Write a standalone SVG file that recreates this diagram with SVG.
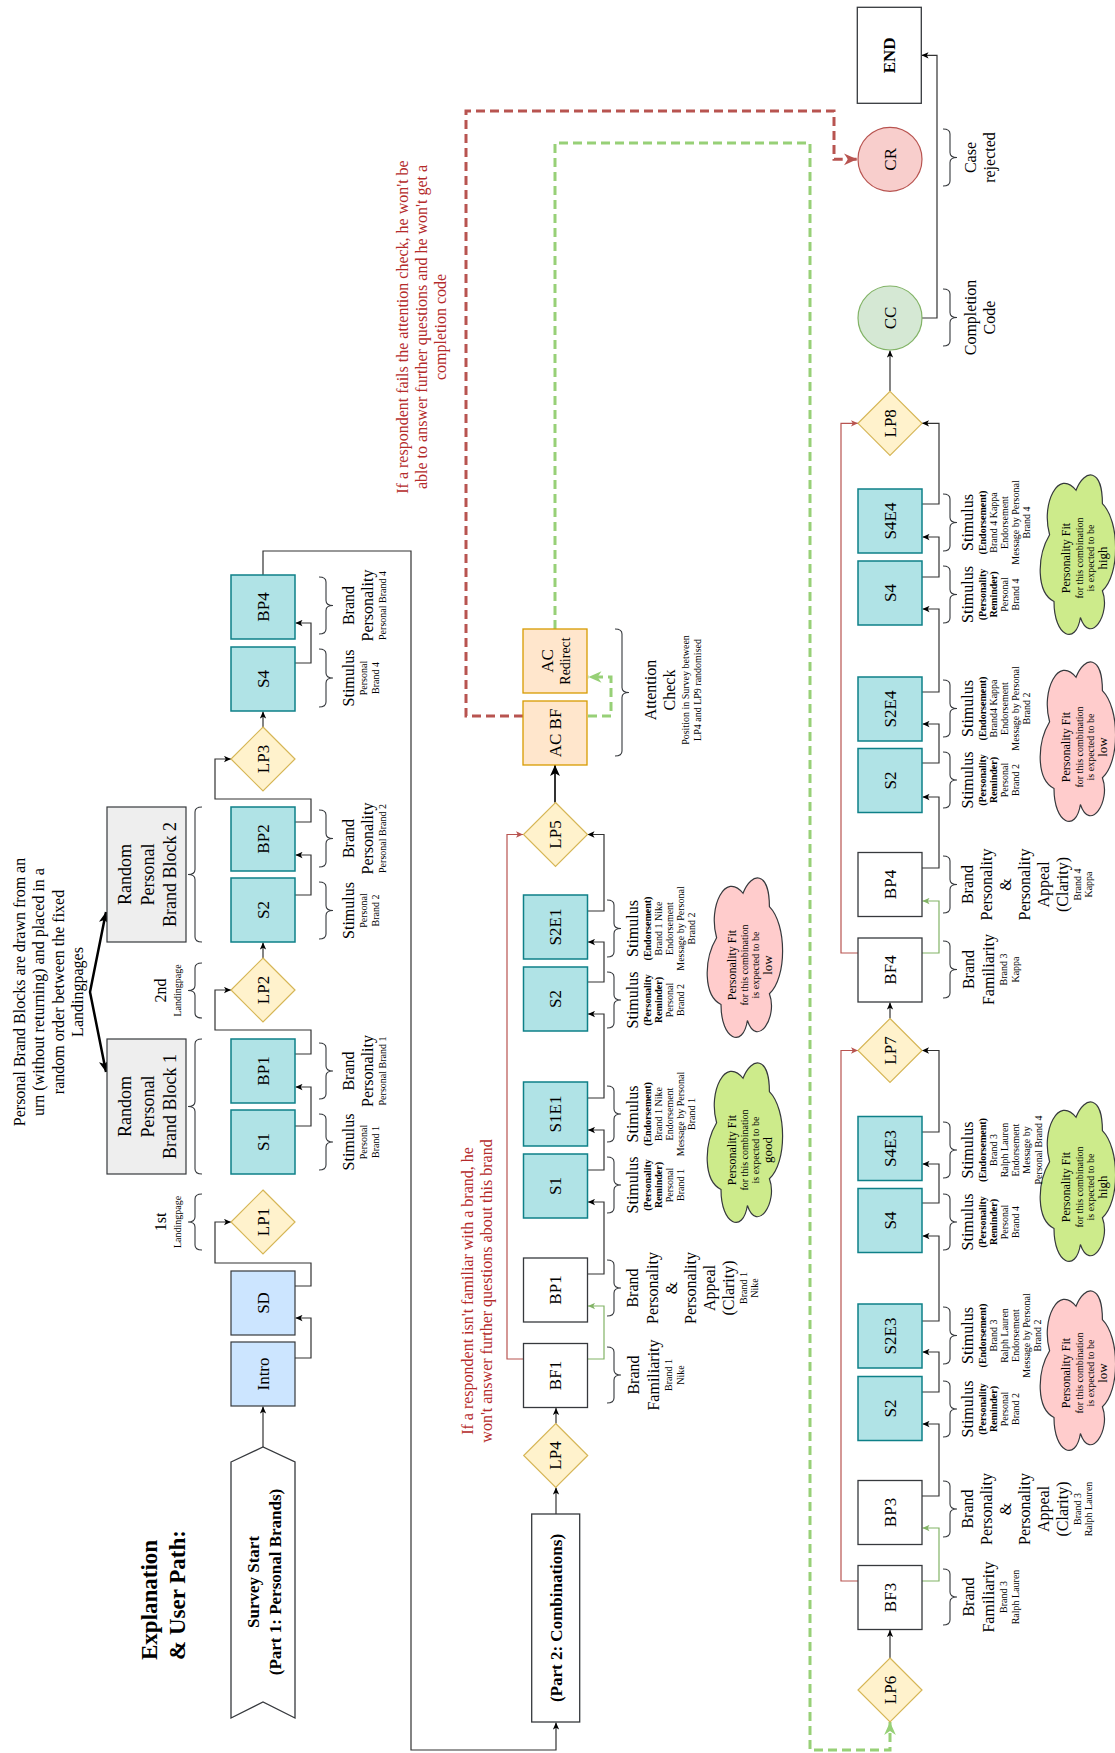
<svg xmlns="http://www.w3.org/2000/svg" width="1115" height="1753" viewBox="0 0 1115 1753">
<style>
.t{font-family:"Liberation Serif","Times New Roman",serif;text-anchor:middle;fill:#000}
.t, .t tspan{dominant-baseline:central}
.ts{text-anchor:start}
.f23{font-size:23px}.f18{font-size:18px}.f17{font-size:17px}.f16{font-size:16px}.f14{font-size:14px}.f13{font-size:13px}.f12{font-size:12px}.f10{font-size:10px}.b{font-weight:bold}
.rt{fill:#b42a2a}
.teal{fill:#b0e3e6;stroke:#0e8088;stroke-width:1.5}
.blue{fill:#cce5ff;stroke:#36393d;stroke-width:1.2}
.dia{fill:#fff2cc;stroke:#d6b656;stroke-width:1.2}
.wht{fill:#fff;stroke:#36393d;stroke-width:1.3}
.gry{fill:#eeeeee;stroke:#36393d;stroke-width:1.2}
.pch{fill:#ffe6cc;stroke:#d79b00;stroke-width:1.3}
.cr{fill:#f8cecc;stroke:#b85450;stroke-width:1.2}
.cc{fill:#d5e8d4;stroke:#82b366;stroke-width:1.2}
.e{fill:none;stroke:#333;stroke-width:1.2}
.er{fill:none;stroke:#b85450;stroke-width:1.2}
.eg{fill:none;stroke:#82b366;stroke-width:1.2}
.dr{fill:none;stroke:#b85450;stroke-width:3;stroke-dasharray:9 5}
.dg{fill:none;stroke:#97d077;stroke-width:3;stroke-dasharray:9 5}
.br{fill:none;stroke:#36393d;stroke-width:1.1}
.cg{fill:#cdeb8b;stroke:#36393d;stroke-width:1.2}
.cp{fill:#ffcccc;stroke:#36393d;stroke-width:1.2}
</style>
<defs>
<marker id="ak" viewBox="0 0 10 10" refX="10" refY="5" markerWidth="7" markerHeight="7" orient="auto" markerUnits="userSpaceOnUse"><path d="M0,0.5 L10,5 L0,9.5 L2.5,5z" fill="#000"/></marker>
<marker id="ar" viewBox="0 0 10 10" refX="10" refY="5" markerWidth="7" markerHeight="7" orient="auto" markerUnits="userSpaceOnUse"><path d="M0,0.5 L10,5 L0,9.5 L2.5,5z" fill="#b85450"/></marker>
<marker id="ag" viewBox="0 0 10 10" refX="10" refY="5" markerWidth="7" markerHeight="7" orient="auto" markerUnits="userSpaceOnUse"><path d="M0,0.5 L10,5 L0,9.5 L2.5,5z" fill="#82b366"/></marker>
<marker id="akb" viewBox="0 0 10 10" refX="10" refY="5" markerWidth="11" markerHeight="11" orient="auto-start-reverse" markerUnits="userSpaceOnUse"><path d="M0,0.5 L10,5 L0,9.5 L2.5,5z" fill="#000"/></marker>
<marker id="arb" viewBox="0 0 10 10" refX="10" refY="5" markerWidth="13" markerHeight="13" orient="auto" markerUnits="userSpaceOnUse"><path d="M0,0.5 L10,5 L0,9.5 L3,5z" fill="#b85450"/></marker>
<marker id="agb" viewBox="0 0 10 10" refX="10" refY="5" markerWidth="13" markerHeight="13" orient="auto" markerUnits="userSpaceOnUse"><path d="M0,0.5 L10,5 L0,9.5 L3,5z" fill="#97d077"/></marker>
<path id="cloud" d="M-44.5,-22 C-80.1,-22 -89,0 -60.5,4.4 C-89,14.1 -57,35.2 -33.8,26.4 C-17.8,44 35.6,44 53.4,26.4 C89,26.4 89,8.8 66.75,0 C89,-17.6 53.4,-35.2 22.25,-26.4 C0,-39.6 -35.6,-39.6 -44.5,-22 Z"/>
</defs>
<rect width="1115" height="1753" fill="#fff"/>

<!-- Free texts -->
<g id="title">
<text class="t ts b f23" transform="translate(0,1660) rotate(-90)"><tspan x="0" y="149">Explanation</tspan><tspan x="0" y="177">&amp; User Path:</tspan></text>
</g>
<g id="note-blocks">
<text class="t f16" transform="translate(0,992) rotate(-90)"><tspan x="0" y="18.5">Personal Brand Blocks are drawn from an</tspan><tspan x="0" y="38">urn (without returning) and placed in a</tspan><tspan x="0" y="57.5">random order between the fixed</tspan><tspan x="0" y="77">Landingpages</tspan></text>
</g>
<g id="note-familiar">
<text class="t f16 rt" transform="translate(0,1291) rotate(-90)"><tspan x="0" y="467">If a respondent isn't familiar with a brand, he</tspan><tspan x="0" y="485.5">won't answer further questions about this brand</tspan></text>
</g>
<g id="note-attention">
<text class="t f16 rt" transform="translate(0,327) rotate(-90)"><tspan x="0" y="402">If a respondent fails the attention check, he won't be</tspan><tspan x="0" y="421">able to answer further questions and he won't get a</tspan><tspan x="0" y="440">completion code</tspan></text>
</g>

<!-- Connectors -->
<g id="connectors">
<path class="e" marker-end="url(#ak)" d="M263,1447 V1406.5"/>
<path class="e" marker-end="url(#ak)" d="M295,1358 H311 V1318 H295.5"/>
<path class="e" marker-end="url(#ak)" d="M295,1286 H311 V1263 H215 V1222 H231"/>
<path class="e" marker-end="url(#ak)" d="M295,1126 H311 V1087 H295.5"/>
<path class="e" marker-end="url(#ak)" d="M295,1054 H311 V1030 H215 V990 H231"/>
<path class="e" marker-end="url(#ak)" d="M263,958 V942.5"/>
<path class="e" marker-end="url(#ak)" d="M295,895 H311 V855 H295.5"/>
<path class="e" marker-end="url(#ak)" d="M295,822 H311 V799 H215 V759 H231"/>
<path class="e" marker-end="url(#ak)" d="M263,727 V711.5"/>
<path class="e" marker-end="url(#ak)" d="M295,663 H311 V623 H295.5"/>
<path class="e" marker-end="url(#ak)" d="M263,575 V551 H411 V1750 H556 V1722.5"/>

<path class="e" marker-end="url(#ak)" d="M556,1514 V1487.5"/>
<path class="e" marker-end="url(#ak)" d="M556,1423.5 V1408"/>
<path class="eg" marker-end="url(#ag)" d="M587.5,1359 H604 V1306 H588"/>
<path class="er" marker-end="url(#ar)" d="M523.5,1359 H507 V834.5 H523"/>
<path class="e" marker-end="url(#ak)" d="M587.5,1274 H604 V1202 H588"/>
<path class="e" marker-end="url(#ak)" d="M587.5,1170 H604 V1130 H588"/>
<path class="e" marker-end="url(#ak)" d="M587.5,1098 H604 V1014 H588"/>
<path class="e" marker-end="url(#ak)" d="M587.5,982 H604 V942 H588"/>
<path class="e" marker-end="url(#ak)" d="M587.5,911 H604 V834.5 H587.5"/>
<path class="e" style="stroke-width:2" marker-end="url(#akb)" d="M555,802.5 V765"/>
<path class="dr" marker-end="url(#arb)" d="M523,716 H466 V111 H834 V159.3 H857"/>
<path class="dg" marker-end="url(#agb)" d="M588,716 H611 V677 H588.5"/>
<path class="dg" marker-end="url(#agb)" d="M555,629 V143 H810 V1750 H890 V1722"/>

<path class="e" marker-end="url(#ak)" d="M890,1658 V1630"/>
<path class="eg" marker-end="url(#ag)" d="M922,1581 H939 V1528 H922.5"/>
<path class="er" marker-end="url(#ar)" d="M858,1581 H841 V1050.5 H858"/>
<path class="e" marker-end="url(#ak)" d="M922,1496 H939 V1424 H922.5"/>
<path class="e" marker-end="url(#ak)" d="M922,1392 H939 V1352 H922.5"/>
<path class="e" marker-end="url(#ak)" d="M922,1321 H939 V1236 H922.5"/>
<path class="e" marker-end="url(#ak)" d="M922,1203 H939 V1164 H922.5"/>
<path class="e" marker-end="url(#ak)" d="M922,1132 H939 V1050.5 H922"/>
<path class="e" marker-end="url(#ak)" d="M890,1018.5 V1002.5"/>
<path class="eg" marker-end="url(#ag)" d="M922,953 H939 V901 H922.5"/>
<path class="er" marker-end="url(#ar)" d="M858,953 H841 V423.3 H858"/>
<path class="e" marker-end="url(#ak)" d="M922,868 H939 V797 H922.5"/>
<path class="e" marker-end="url(#ak)" d="M922,763 H939 V724 H922.5"/>
<path class="e" marker-end="url(#ak)" d="M922,692 H939 V609 H922.5"/>
<path class="e" marker-end="url(#ak)" d="M922,577 H939 V537 H922.5"/>
<path class="e" marker-end="url(#ak)" d="M922,504 H939 V423.3 H922"/>
<path class="e" marker-end="url(#ak)" d="M890,391.3 V350.5"/>
<path class="e" marker-end="url(#ak)" d="M922,318 H937 V55.3 H921.5"/>

<path fill="none" stroke="#000" stroke-width="2.5" marker-start="url(#akb)" marker-end="url(#akb)" d="M106,912 L90,992 L106,1072"/>
</g>

<!-- Braces -->
<g id="braces" class="br">
<path d="M319 649 Q326 649 326 654 V673 Q326 678 333 678 Q326 678 326 683 V702 Q326 707 319 707"/>
<path d="M319 577 Q326 577 326 582 V600.5 Q326 605.5 333 605.5 Q326 605.5 326 610.5 V629 Q326 634 319 634"/>
<path d="M319 810 Q326 810 326 815 V833.5 Q326 838.5 333 838.5 Q326 838.5 326 843.5 V862 Q326 867 319 867"/>
<path d="M319 882 Q326 882 326 887 V905.5 Q326 910.5 333 910.5 Q326 910.5 326 915.5 V934 Q326 939 319 939"/>
<path d="M319 1043 Q326 1043 326 1048 V1066 Q326 1071 333 1071 Q326 1071 326 1076 V1094 Q326 1099 319 1099"/>
<path d="M319 1114 Q326 1114 326 1119 V1137 Q326 1142 333 1142 Q326 1142 326 1147 V1165 Q326 1170 319 1170"/>
<path d="M202 807 Q195 807 195 812 V869.5 Q195 874.5 188 874.5 Q195 874.5 195 879.5 V937 Q195 942 202 942"/>
<path d="M202 963 Q195 963 195 968 V985.5 Q195 990.5 188 990.5 Q195 990.5 195 995.5 V1013 Q195 1018 202 1018"/>
<path d="M202 1039 Q195 1039 195 1044 V1101.5 Q195 1106.5 188 1106.5 Q195 1106.5 195 1111.5 V1169 Q195 1174 202 1174"/>
<path d="M202 1194 Q195 1194 195 1199 V1217 Q195 1222 188 1222 Q195 1222 195 1227 V1245 Q195 1250 202 1250"/>

<path d="M607 900 Q614 900 614 905 V923.5 Q614 928.5 621 928.5 Q614 928.5 614 933.5 V952 Q614 957 607 957"/>
<path d="M607 972 Q614 972 614 977 V995 Q614 1000 621 1000 Q614 1000 614 1005 V1023 Q614 1028 607 1028"/>
<path d="M607 1086 Q614 1086 614 1091 V1109 Q614 1114 621 1114 Q614 1114 614 1119 V1137 Q614 1142 607 1142"/>
<path d="M607 1157 Q614 1157 614 1162 V1180 Q614 1185 621 1185 Q614 1185 614 1190 V1208 Q614 1213 607 1213"/>
<path d="M607 1260 Q614 1260 614 1265 V1283 Q614 1288 621 1288 Q614 1288 614 1293 V1311 Q614 1316 607 1316"/>
<path d="M607 1347 Q614 1347 614 1352 V1370 Q614 1375 621 1375 Q614 1375 614 1380 V1398 Q614 1403 607 1403"/>
<path d="M615 629 Q622 629 622 634 V687.5 Q622 692.5 629 692.5 Q622 692.5 622 697.5 V751 Q622 756 615 756"/>

<path d="M943 129 Q950 129 950 134 V152.5 Q950 157.5 957 157.5 Q950 157.5 950 162.5 V181 Q950 186 943 186"/>
<path d="M943 289 Q950 289 950 294 V312.5 Q950 317.5 957 317.5 Q950 317.5 950 322.5 V341 Q950 346 943 346"/>
<path d="M943 494 Q950 494 950 499 V517.5 Q950 522.5 957 522.5 Q950 522.5 950 527.5 V546 Q950 551 943 551"/>
<path d="M943 566 Q950 566 950 571 V589.5 Q950 594.5 957 594.5 Q950 594.5 950 599.5 V618 Q950 623 943 623"/>
<path d="M943 680 Q950 680 950 685 V703.5 Q950 708.5 957 708.5 Q950 708.5 950 713.5 V732 Q950 737 943 737"/>
<path d="M943 752 Q950 752 950 757 V775 Q950 780 957 780 Q950 780 950 785 V803 Q950 808 943 808"/>
<path d="M943 856 Q950 856 950 861 V879.5 Q950 884.5 957 884.5 Q950 884.5 950 889.5 V908 Q950 913 943 913"/>
<path d="M943 941 Q950 941 950 946 V964.5 Q950 969.5 957 969.5 Q950 969.5 950 974.5 V993 Q950 998 943 998"/>
<path d="M943 1122 Q950 1122 950 1127 V1145 Q950 1150 957 1150 Q950 1150 950 1155 V1173 Q950 1178 943 1178"/>
<path d="M943 1194 Q950 1194 950 1199 V1217 Q950 1222 957 1222 Q950 1222 950 1227 V1245 Q950 1250 943 1250"/>
<path d="M943 1307 Q950 1307 950 1312 V1330.5 Q950 1335.5 957 1335.5 Q950 1335.5 950 1340.5 V1359 Q950 1364 943 1364"/>
<path d="M943 1381 Q950 1381 950 1386 V1404 Q950 1409 957 1409 Q950 1409 950 1414 V1432 Q950 1437 943 1437"/>
<path d="M943 1481 Q950 1481 950 1486 V1504 Q950 1509 957 1509 Q950 1509 950 1514 V1532 Q950 1537 943 1537"/>
<path d="M943 1569 Q950 1569 950 1574 V1592 Q950 1597 957 1597 Q950 1597 950 1602 V1620 Q950 1625 943 1625"/>
</g>

<!-- Clouds -->
<g id="cloud-p2-good"><use href="#cloud" class="cg" transform="translate(743,1145) rotate(-90)"/>
<text class="t" transform="translate(0,1150) rotate(-90)"><tspan x="0" y="732" class="f12">Personality Fit</tspan><tspan x="0" y="744" class="f10">for this combination</tspan><tspan x="0" y="755" class="f10">is expected to be</tspan><tspan x="0" y="767" class="f13">good</tspan></text></g>
<g id="cloud-p2-low"><use href="#cloud" class="cp" transform="translate(743,960) rotate(-90)"/>
<text class="t" transform="translate(0,965) rotate(-90)"><tspan x="0" y="732" class="f12">Personality Fit</tspan><tspan x="0" y="744" class="f10">for this combination</tspan><tspan x="0" y="755" class="f10">is expected to be</tspan><tspan x="0" y="767" class="f13">low</tspan></text></g>
<g id="cloud-p3-high1"><use href="#cloud" class="cg" transform="translate(1076,557) rotate(-90)"/>
<text class="t" transform="translate(0,558) rotate(-90)"><tspan x="0" y="1066" class="f12">Personality Fit</tspan><tspan x="0" y="1078.5" class="f10">for this combination</tspan><tspan x="0" y="1090" class="f10">is expected to be</tspan><tspan x="0" y="1102" class="f13">high</tspan></text></g>
<g id="cloud-p3-low1"><use href="#cloud" class="cp" transform="translate(1076,744) rotate(-90)"/>
<text class="t" transform="translate(0,747) rotate(-90)"><tspan x="0" y="1066" class="f12">Personality Fit</tspan><tspan x="0" y="1078.5" class="f10">for this combination</tspan><tspan x="0" y="1090" class="f10">is expected to be</tspan><tspan x="0" y="1102" class="f13">low</tspan></text></g>
<g id="cloud-p3-high2"><use href="#cloud" class="cg" transform="translate(1076,1184) rotate(-90)"/>
<text class="t" transform="translate(0,1187) rotate(-90)"><tspan x="0" y="1066" class="f12">Personality Fit</tspan><tspan x="0" y="1078.5" class="f10">for this combination</tspan><tspan x="0" y="1090" class="f10">is expected to be</tspan><tspan x="0" y="1102" class="f13">high</tspan></text></g>
<g id="cloud-p3-low2"><use href="#cloud" class="cp" transform="translate(1076,1373) rotate(-90)"/>
<text class="t" transform="translate(0,1373) rotate(-90)"><tspan x="0" y="1066" class="f12">Personality Fit</tspan><tspan x="0" y="1078.5" class="f10">for this combination</tspan><tspan x="0" y="1090" class="f10">is expected to be</tspan><tspan x="0" y="1102" class="f13">low</tspan></text></g>

<!-- Part 1 nodes -->
<g id="start"><polygon class="wht" points="231,1462 263,1447 295,1462 295,1718 263,1702 231,1718"/>
<text class="t b f17" transform="translate(0,1582) rotate(-90)"><tspan x="0" y="253">Survey Start</tspan><tspan x="0" y="275">(Part 1: Personal Brands)</tspan></text></g>
<g id="intro"><rect class="blue" x="231" y="1342" width="64" height="64"/><text class="t f17" transform="translate(0,1374) rotate(-90)" y="263">Intro</text></g>
<g id="sd"><rect class="blue" x="231" y="1271" width="64" height="64"/><text class="t f17" transform="translate(0,1303) rotate(-90)" y="263">SD</text></g>
<g id="lp1"><polygon class="dia" points="263,1190 295,1222 263,1254 231,1222"/><text class="t f17" transform="translate(0,1222) rotate(-90)" y="263">LP1</text></g>
<g id="p1-s1"><rect class="teal" x="231" y="1110" width="64" height="64"/><text class="t f17" transform="translate(0,1142) rotate(-90)" y="263">S1</text></g>
<g id="p1-bp1"><rect class="teal" x="231" y="1039" width="64" height="64"/><text class="t f17" transform="translate(0,1071) rotate(-90)" y="263">BP1</text></g>
<g id="lp2"><polygon class="dia" points="263,958 295,990 263,1022 231,990"/><text class="t f17" transform="translate(0,990) rotate(-90)" y="263">LP2</text></g>
<g id="p1-s2"><rect class="teal" x="231" y="878" width="64" height="64"/><text class="t f17" transform="translate(0,910) rotate(-90)" y="263">S2</text></g>
<g id="p1-bp2"><rect class="teal" x="231" y="807" width="64" height="64"/><text class="t f17" transform="translate(0,839) rotate(-90)" y="263">BP2</text></g>
<g id="lp3"><polygon class="dia" points="263,727 295,759 263,791 231,759"/><text class="t f17" transform="translate(0,759) rotate(-90)" y="263">LP3</text></g>
<g id="p1-s4"><rect class="teal" x="231" y="647" width="64" height="64"/><text class="t f17" transform="translate(0,679) rotate(-90)" y="263">S4</text></g>
<g id="p1-bp4"><rect class="teal" x="231" y="575" width="64" height="64"/><text class="t f17" transform="translate(0,607) rotate(-90)" y="263">BP4</text></g>
<g id="block1"><rect class="gry" x="107" y="1039" width="79" height="135"/><text class="t f18" transform="translate(0,1106.5) rotate(-90)"><tspan x="0" y="125">Random</tspan><tspan x="0" y="147.5">Personal</tspan><tspan x="0" y="170">Brand Block 1</tspan></text></g>
<g id="block2"><rect class="gry" x="107" y="807" width="79" height="135"/><text class="t f18" transform="translate(0,874.5) rotate(-90)"><tspan x="0" y="125">Random</tspan><tspan x="0" y="147.5">Personal</tspan><tspan x="0" y="170">Brand Block 2</tspan></text></g>

<!-- Part 1 labels -->
<g id="p1-labels">
<text class="t" transform="translate(0,1222) rotate(-90)"><tspan x="0" y="160" class="f16">1st</tspan><tspan x="0" y="177" class="f10">Landingpage</tspan></text>
<text class="t" transform="translate(0,990.5) rotate(-90)"><tspan x="0" y="160" class="f16">2nd</tspan><tspan x="0" y="177" class="f10">Landingpage</tspan></text>
<text class="t" transform="translate(0,1142) rotate(-90)"><tspan x="0" y="348" class="f16">Stimulus</tspan><tspan x="0" y="363" class="f10">Personal</tspan><tspan x="0" y="375" class="f10">Brand 1</tspan></text>
<text class="t" transform="translate(0,1071) rotate(-90)"><tspan x="0" y="348" class="f16">Brand</tspan><tspan x="0" y="367" class="f16">Personality</tspan><tspan x="0" y="382" class="f10">Personal Brand 1</tspan></text>
<text class="t" transform="translate(0,910.5) rotate(-90)"><tspan x="0" y="348" class="f16">Stimulus</tspan><tspan x="0" y="363" class="f10">Personal</tspan><tspan x="0" y="375" class="f10">Brand 2</tspan></text>
<text class="t" transform="translate(0,838.5) rotate(-90)"><tspan x="0" y="348" class="f16">Brand</tspan><tspan x="0" y="367" class="f16">Personality</tspan><tspan x="0" y="382" class="f10">Personal Brand 2</tspan></text>
<text class="t" transform="translate(0,678) rotate(-90)"><tspan x="0" y="348" class="f16">Stimulus</tspan><tspan x="0" y="363" class="f10">Personal</tspan><tspan x="0" y="375" class="f10">Brand 4</tspan></text>
<text class="t" transform="translate(0,605.5) rotate(-90)"><tspan x="0" y="348" class="f16">Brand</tspan><tspan x="0" y="367" class="f16">Personality</tspan><tspan x="0" y="382" class="f10">Personal Brand 4</tspan></text>
</g>

<!-- Part 2 nodes -->
<g id="part2"><rect class="wht" x="531.7" y="1514" width="48" height="208"/><text class="t b f17" transform="translate(0,1618) rotate(-90)" y="556">(Part 2: Combinations)</text></g>
<g id="lp4"><polygon class="dia" points="555.7,1423.5 587.7,1455.5 555.7,1487.5 523.7,1455.5"/><text class="t f17" transform="translate(0,1455.5) rotate(-90)" y="555.7">LP4</text></g>
<g id="bf1"><rect class="wht" x="523.5" y="1343.5" width="64" height="64"/><text class="t f17" transform="translate(0,1375.5) rotate(-90)" y="555.5">BF1</text></g>
<g id="p2-bp1"><rect class="wht" x="523.5" y="1258" width="64" height="64"/><text class="t f17" transform="translate(0,1290) rotate(-90)" y="555.5">BP1</text></g>
<g id="p2-s1"><rect class="teal" x="523.5" y="1154" width="64" height="64"/><text class="t f17" transform="translate(0,1186) rotate(-90)" y="555.5">S1</text></g>
<g id="s1e1"><rect class="teal" x="523.5" y="1082" width="64" height="64"/><text class="t f17" transform="translate(0,1114) rotate(-90)" y="555.5">S1E1</text></g>
<g id="p2-s2"><rect class="teal" x="523.5" y="967" width="64" height="64"/><text class="t f17" transform="translate(0,999) rotate(-90)" y="555.5">S2</text></g>
<g id="s2e1"><rect class="teal" x="523.5" y="895" width="64" height="64"/><text class="t f17" transform="translate(0,927) rotate(-90)" y="555.5">S2E1</text></g>
<g id="lp5"><polygon class="dia" points="555.5,802.5 587.5,834.5 555.5,866.5 523.5,834.5"/><text class="t f17" transform="translate(0,834.5) rotate(-90)" y="555.5">LP5</text></g>
<g id="acbf"><rect class="pch" x="523" y="701" width="64" height="64"/><text class="t f17" transform="translate(0,733) rotate(-90)" y="555">AC BF</text></g>
<g id="acred"><rect class="pch" x="523" y="629" width="64" height="64"/><text class="t" transform="translate(0,661) rotate(-90)"><tspan x="0" y="546.5" class="f17">AC</tspan><tspan x="0" y="565" class="f14">Redirect</tspan></text></g>

<!-- Part 2 labels -->
<g id="p2-labels">
<text class="t" transform="translate(0,1375) rotate(-90)"><tspan x="0" y="633" class="f16">Brand</tspan><tspan x="0" y="653" class="f16">Familiarity</tspan><tspan x="0" y="668" class="f10">Brand 1</tspan><tspan x="0" y="680" class="f10">Nike</tspan></text>
<text class="t" transform="translate(0,1288) rotate(-90)"><tspan x="0" y="632" class="f16">Brand</tspan><tspan x="0" y="651.5" class="f16">Personality</tspan><tspan x="0" y="671" class="f16">&amp;</tspan><tspan x="0" y="690" class="f16">Personality</tspan><tspan x="0" y="709" class="f16">Appeal</tspan><tspan x="0" y="728" class="f16">(Clarity)</tspan><tspan x="0" y="743" class="f10">Brand 1</tspan><tspan x="0" y="754" class="f10">Nike</tspan></text>
<text class="t" transform="translate(0,1185) rotate(-90)"><tspan x="0" y="632" class="f16">Stimulus</tspan><tspan x="0" y="647" class="f10 b">(Personality</tspan><tspan x="0" y="657.5" class="f10 b">Reminder)</tspan><tspan x="0" y="668.5" class="f10">Personal</tspan><tspan x="0" y="680" class="f10">Brand 1</tspan></text>
<text class="t" transform="translate(0,1114) rotate(-90)"><tspan x="0" y="632" class="f16">Stimulus</tspan><tspan x="0" y="647" class="f10 b">(Endorsement)</tspan><tspan x="0" y="658" class="f10">Brand 1 Nike</tspan><tspan x="0" y="669" class="f10">Endorsement</tspan><tspan x="0" y="680" class="f10">Message by Personal</tspan><tspan x="0" y="691" class="f10">Brand 1</tspan></text>
<text class="t" transform="translate(0,1000) rotate(-90)"><tspan x="0" y="632" class="f16">Stimulus</tspan><tspan x="0" y="647" class="f10 b">(Personality</tspan><tspan x="0" y="657.5" class="f10 b">Reminder)</tspan><tspan x="0" y="668.5" class="f10">Personal</tspan><tspan x="0" y="680" class="f10">Brand 2</tspan></text>
<text class="t" transform="translate(0,928.5) rotate(-90)"><tspan x="0" y="632" class="f16">Stimulus</tspan><tspan x="0" y="647" class="f10 b">(Endorsement)</tspan><tspan x="0" y="658" class="f10">Brand 1 Nike</tspan><tspan x="0" y="669" class="f10">Endorsement</tspan><tspan x="0" y="680" class="f10">Message by Personal</tspan><tspan x="0" y="691" class="f10">Brand 2</tspan></text>
<text class="t" transform="translate(0,690) rotate(-90)"><tspan x="0" y="650" class="f16">Attention</tspan><tspan x="0" y="669" class="f16">Check</tspan><tspan x="0" y="685" class="f10">Position in Survey between</tspan><tspan x="0" y="697" class="f10">LP4 and LP9 randomised</tspan></text>
</g>

<!-- Part 3 nodes -->
<g id="lp6"><polygon class="dia" points="890,1658 922,1690 890,1722 858,1690"/><text class="t f17" transform="translate(0,1690) rotate(-90)" y="890">LP6</text></g>
<g id="bf3"><rect class="wht" x="858" y="1565.5" width="64" height="64"/><text class="t f17" transform="translate(0,1597.5) rotate(-90)" y="890">BF3</text></g>
<g id="bp3"><rect class="wht" x="858" y="1480.5" width="64" height="64"/><text class="t f17" transform="translate(0,1512.5) rotate(-90)" y="890">BP3</text></g>
<g id="p3-s2a"><rect class="teal" x="858" y="1376.5" width="64" height="64"/><text class="t f17" transform="translate(0,1408.5) rotate(-90)" y="890">S2</text></g>
<g id="s2e3"><rect class="teal" x="858" y="1304" width="64" height="64"/><text class="t f17" transform="translate(0,1336) rotate(-90)" y="890">S2E3</text></g>
<g id="p3-s4a"><rect class="teal" x="858" y="1188.5" width="64" height="64"/><text class="t f17" transform="translate(0,1220.5) rotate(-90)" y="890">S4</text></g>
<g id="s4e3"><rect class="teal" x="858" y="1116.5" width="64" height="64"/><text class="t f17" transform="translate(0,1148.5) rotate(-90)" y="890">S4E3</text></g>
<g id="lp7"><polygon class="dia" points="890,1018.5 922,1050.5 890,1082.5 858,1050.5"/><text class="t f17" transform="translate(0,1050.5) rotate(-90)" y="890">LP7</text></g>
<g id="bf4"><rect class="wht" x="858" y="938" width="64" height="64"/><text class="t f17" transform="translate(0,970) rotate(-90)" y="890">BF4</text></g>
<g id="p3-bp4"><rect class="wht" x="858" y="852.5" width="64" height="64"/><text class="t f17" transform="translate(0,884.5) rotate(-90)" y="890">BP4</text></g>
<g id="p3-s2b"><rect class="teal" x="858" y="748.5" width="64" height="64"/><text class="t f17" transform="translate(0,780.5) rotate(-90)" y="890">S2</text></g>
<g id="s2e4"><rect class="teal" x="858" y="677" width="64" height="64"/><text class="t f17" transform="translate(0,709) rotate(-90)" y="890">S2E4</text></g>
<g id="p3-s4b"><rect class="teal" x="858" y="561" width="64" height="64"/><text class="t f17" transform="translate(0,593) rotate(-90)" y="890">S4</text></g>
<g id="s4e4"><rect class="teal" x="858" y="489" width="64" height="64"/><text class="t f17" transform="translate(0,521) rotate(-90)" y="890">S4E4</text></g>
<g id="lp8"><polygon class="dia" points="890,391.3 922,423.3 890,455.3 858,423.3"/><text class="t f17" transform="translate(0,423.3) rotate(-90)" y="890">LP8</text></g>
<g id="cc"><circle class="cc" cx="890" cy="318" r="32"/><text class="t f17" transform="translate(0,318) rotate(-90)" y="890">CC</text></g>
<g id="cr"><circle class="cr" cx="890" cy="159.3" r="32"/><text class="t f17" transform="translate(0,159.3) rotate(-90)" y="890">CR</text></g>
<g id="end"><rect class="wht" x="857.3" y="7.3" width="64" height="96"/><text class="t b f17" transform="translate(0,55.3) rotate(-90)" y="889.5">END</text></g>

<!-- Part 3 labels -->
<g id="p3-labels">
<text class="t" transform="translate(0,157.5) rotate(-90)"><tspan x="0" y="970" class="f16">Case</tspan><tspan x="0" y="988.5" class="f16">rejected</tspan></text>
<text class="t" transform="translate(0,317.5) rotate(-90)"><tspan x="0" y="970" class="f16">Completion</tspan><tspan x="0" y="988.5" class="f16">Code</tspan></text>
<text class="t" transform="translate(0,522.5) rotate(-90)"><tspan x="0" y="967" class="f16">Stimulus</tspan><tspan x="0" y="982" class="f10 b">(Endorsement)</tspan><tspan x="0" y="993" class="f10">Brand 4 Kappa</tspan><tspan x="0" y="1004" class="f10">Endorsement</tspan><tspan x="0" y="1015" class="f10">Message by Personal</tspan><tspan x="0" y="1026" class="f10">Brand 4</tspan></text>
<text class="t" transform="translate(0,594.5) rotate(-90)"><tspan x="0" y="967" class="f16">Stimulus</tspan><tspan x="0" y="982" class="f10 b">(Personality</tspan><tspan x="0" y="992.5" class="f10 b">Reminder)</tspan><tspan x="0" y="1003.5" class="f10">Personal</tspan><tspan x="0" y="1015" class="f10">Brand 4</tspan></text>
<text class="t" transform="translate(0,708.5) rotate(-90)"><tspan x="0" y="967" class="f16">Stimulus</tspan><tspan x="0" y="982" class="f10 b">(Endorsement)</tspan><tspan x="0" y="993" class="f10">Brand4 Kappa</tspan><tspan x="0" y="1004" class="f10">Endorsement</tspan><tspan x="0" y="1015" class="f10">Message by Personal</tspan><tspan x="0" y="1026" class="f10">Brand 2</tspan></text>
<text class="t" transform="translate(0,780) rotate(-90)"><tspan x="0" y="967" class="f16">Stimulus</tspan><tspan x="0" y="982" class="f10 b">(Personality</tspan><tspan x="0" y="992.5" class="f10 b">Reminder)</tspan><tspan x="0" y="1003.5" class="f10">Personal</tspan><tspan x="0" y="1015" class="f10">Brand 2</tspan></text>
<text class="t" transform="translate(0,884.5) rotate(-90)"><tspan x="0" y="967" class="f16">Brand</tspan><tspan x="0" y="986" class="f16">Personality</tspan><tspan x="0" y="1005" class="f16">&amp;</tspan><tspan x="0" y="1024" class="f16">Personality</tspan><tspan x="0" y="1043" class="f16">Appeal</tspan><tspan x="0" y="1062" class="f16">(Clarity)</tspan><tspan x="0" y="1077" class="f10">Brand 4</tspan><tspan x="0" y="1088" class="f10">Kappa</tspan></text>
<text class="t" transform="translate(0,969.5) rotate(-90)"><tspan x="0" y="968" class="f16">Brand</tspan><tspan x="0" y="988" class="f16">Familiarity</tspan><tspan x="0" y="1003" class="f10">Brand 3</tspan><tspan x="0" y="1014.5" class="f10">Kappa</tspan></text>
<text class="t" transform="translate(0,1150) rotate(-90)"><tspan x="0" y="967" class="f16">Stimulus</tspan><tspan x="0" y="982" class="f10 b">(Endorsement)</tspan><tspan x="0" y="993" class="f10">Brand 3</tspan><tspan x="0" y="1004" class="f10">Ralph Lauren</tspan><tspan x="0" y="1015" class="f10">Endorsement</tspan><tspan x="0" y="1026" class="f10">Message by</tspan><tspan x="0" y="1037.5" class="f10">Personal Brand 4</tspan></text>
<text class="t" transform="translate(0,1222) rotate(-90)"><tspan x="0" y="967" class="f16">Stimulus</tspan><tspan x="0" y="982" class="f10 b">(Personality</tspan><tspan x="0" y="992.5" class="f10 b">Reminder)</tspan><tspan x="0" y="1003.5" class="f10">Personal</tspan><tspan x="0" y="1015" class="f10">Brand 4</tspan></text>
<text class="t" transform="translate(0,1335.5) rotate(-90)"><tspan x="0" y="967" class="f16">Stimulus</tspan><tspan x="0" y="982" class="f10 b">(Endorsement)</tspan><tspan x="0" y="993" class="f10">Brand 3</tspan><tspan x="0" y="1004" class="f10">Ralph Lauren</tspan><tspan x="0" y="1015" class="f10">Endorsement</tspan><tspan x="0" y="1026" class="f10">Message by Personal</tspan><tspan x="0" y="1037" class="f10">Brand 2</tspan></text>
<text class="t" transform="translate(0,1409) rotate(-90)"><tspan x="0" y="967" class="f16">Stimulus</tspan><tspan x="0" y="982" class="f10 b">(Personality</tspan><tspan x="0" y="992.5" class="f10 b">Reminder)</tspan><tspan x="0" y="1003.5" class="f10">Personal</tspan><tspan x="0" y="1015" class="f10">Brand 2</tspan></text>
<text class="t" transform="translate(0,1509) rotate(-90)"><tspan x="0" y="967" class="f16">Brand</tspan><tspan x="0" y="986" class="f16">Personality</tspan><tspan x="0" y="1005" class="f16">&amp;</tspan><tspan x="0" y="1024" class="f16">Personality</tspan><tspan x="0" y="1043" class="f16">Appeal</tspan><tspan x="0" y="1062" class="f16">(Clarity)</tspan><tspan x="0" y="1077" class="f10">Brand 3</tspan><tspan x="0" y="1088" class="f10">Ralph Lauren</tspan></text>
<text class="t" transform="translate(0,1597) rotate(-90)"><tspan x="0" y="968" class="f16">Brand</tspan><tspan x="0" y="988" class="f16">Familiarity</tspan><tspan x="0" y="1003" class="f10">Brand 3</tspan><tspan x="0" y="1014.5" class="f10">Ralph Lauren</tspan></text>
</g>
</svg>
